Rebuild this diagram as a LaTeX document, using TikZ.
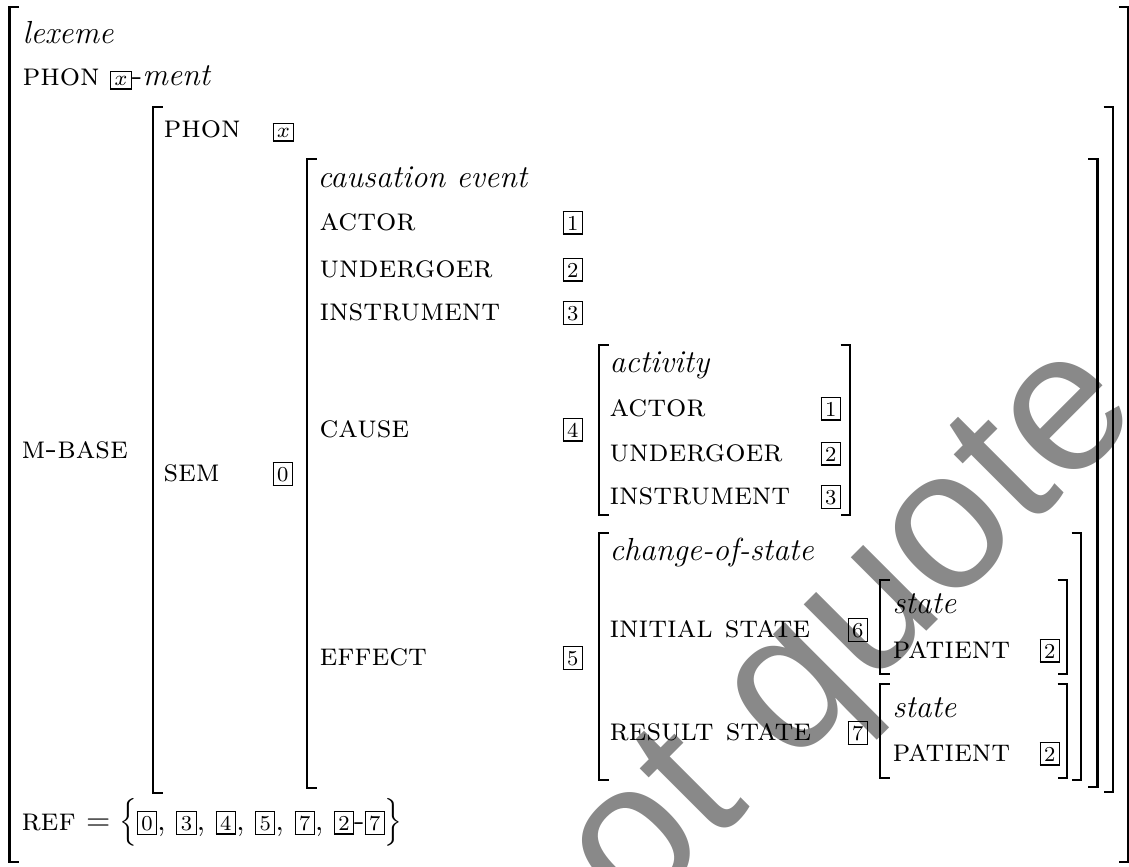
\documentclass[tikz,border=0pt]{standalone}
\usepackage{fontspec}
\newfontfamily\wmfont{Liberation Sans}
\definecolor{wmgray}{RGB}{137,137,137}
\setlength{\fboxsep}{1.3pt}
\setlength{\fboxrule}{0.4pt}
\newcommand{\tg}[1]{\fbox{\fontsize{8}{9}\selectfont #1}}
\newcommand{\tgx}{\fbox{\fontsize{8}{9}\selectfont$x$}}
\newcommand{\lbrak}[3]{\draw[brk] (#1+9.5,#2) -- (#1,#2) -- (#1,#3) -- (#1+9.5,#3);}
\newcommand{\rbrak}[3]{\draw[brk] (#1-9.5,#2) -- (#1,#2) -- (#1,#3) -- (#1-9.5,#3);}
\begin{document}
\begin{tikzpicture}[x=0.3762pt,y=-0.3762pt,
  lbl/.style={anchor=base west,inner sep=0pt,font=\fontsize{12}{14.5}\selectfont},
  tag/.style={anchor=base west,inner sep=0pt,font=\fontsize{12}{14.5}\selectfont},
  brk/.style={line width=1pt,line join=miter},
  wm/.style={rotate=45,anchor=base,inner sep=0pt,text=wmgray,font=\wmfont\fontsize{75}{84}\selectfont}]
\useasboundingbox (0,0) rectangle (1129,866);
\begin{scope}
\clip (0,0) rectangle (1129,866);
\node[wm] (wm) at (752,806) {do not quote};
\end{scope}
% brackets
\lbrak{9.5}{7}{862}
\rbrak{1128.3}{7}{862}
\lbrak{153}{107}{793}
\rbrak{1113}{107}{792}
\lbrak{307}{159}{788}
\rbrak{1097.5}{159}{787}
\lbrak{599}{345}{515}
\rbrak{850}{345}{515}
\lbrak{599}{533}{780}
\rbrak{1081}{533}{780}
\lbrak{880}{580}{674}
\rbrak{1067}{580}{674}
\lbrak{880}{684}{778}
\rbrak{1067}{684}{778}
% outer level
\node[lbl] (lex) at (22,43) {\textit{lexeme}};
\node[lbl] (phon) at (22,85) {\textsc{phon} \tgx-\textit{ment}};
\node[lbl] (mbase) at (21,458) {\textsc{m-base}};
\node[lbl] (ref) at (21,830) {\textsc{ref} $=\Bigl\{$\tg{0}, \tg{3}, \tg{4}, \tg{5}, \tg{7}, \tg{2}-\tg{7}$\Bigr\}$};
% m-base value
\node[lbl] (phon2) at (163,137) {\textsc{phon}};
\node[tag] (phon2v) at (272,137) {\tgx};
\node[lbl] (sem) at (163,481) {\textsc{sem}};
\node[tag] (semv) at (272,481) {\tg{0}};
% causation event
\node[lbl] (caus) at (317,187) {\textit{causation event}};
\node[lbl] (act) at (319,230) {\textsc{actor}};
\node[tag] (actv) at (562,230) {\tg{1}};
\node[lbl] (und) at (319,277) {\textsc{undergoer}};
\node[tag] (undv) at (562,277) {\tg{2}};
\node[lbl] (ins) at (319,320) {\textsc{instrument}};
\node[tag] (insv) at (562,320) {\tg{3}};
\node[lbl] (cause) at (319,437) {\textsc{cause}};
\node[tag] (causev) at (562,437) {\tg{4}};
\node[lbl] (eff) at (319,665) {\textsc{effect}};
\node[tag] (effv) at (562,665) {\tg{5}};
% activity
\node[lbl] (actv2) at (609,372) {\textit{activity}};
\node[lbl] (a2) at (609,416) {\textsc{actor}};
\node[tag] (a2v) at (820,416) {\tg{1}};
\node[lbl] (u2) at (609,461) {\textsc{undergoer}};
\node[tag] (u2v) at (820,461) {\tg{2}};
\node[lbl] (i2) at (609,504) {\textsc{instrument}};
\node[tag] (i2v) at (820,504) {\tg{3}};
% change of state
\node[lbl] (cos) at (609,560) {\textit{change-of-state}};
\node[lbl] (init) at (609,637) {\textsc{initial state}};
\node[tag] (initv) at (847,637) {\tg{6}};
\node[lbl] (res) at (609,740) {\textsc{result state}};
\node[tag] (resv) at (847,740) {\tg{7}};
% states
\node[lbl] (st1) at (892,613) {\textit{state}};
\node[lbl] (p1) at (892,658) {\textsc{patient}};
\node[tag] (p1v) at (1039,658) {\tg{2}};
\node[lbl] (st2) at (892,717) {\textit{state}};
\node[lbl] (p2) at (892,761) {\textsc{patient}};
\node[tag] (p2v) at (1039,761) {\tg{2}};
\end{tikzpicture}
\end{document}
